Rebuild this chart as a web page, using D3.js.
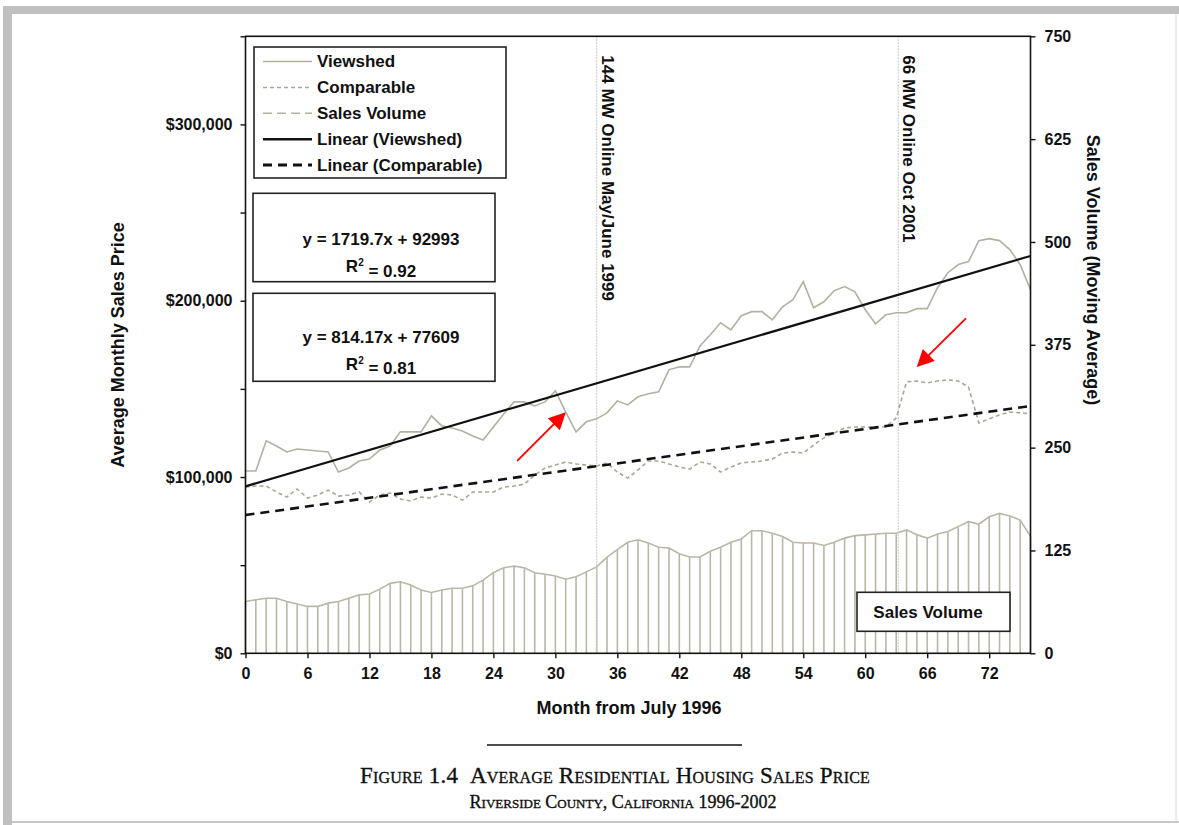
<!DOCTYPE html>
<html><head><meta charset="utf-8">
<script src="https://cdn.jsdelivr.net/npm/d3@7"></script>
<style>
body{margin:0;background:#fff;}
svg{display:block;}
text{font-family:"Liberation Sans",Arial,sans-serif;font-weight:bold;fill:#111;}
.cap{font-family:"Liberation Serif","Times New Roman",serif;font-weight:normal;font-variant:small-caps;stroke:#111;stroke-width:0.35;}
</style></head>
<body>
<svg id="c" width="1179" height="825"></svg>
<script>
// ---- Data ----
const months = d3.range(0, 77);
const viewshed = [103400,103400,120500,117600,114200,115900,115300,114800,114200,102800,
  105100,109100,110200,115300,117600,125600,125600,125600,134700,129000,
  127800,126100,123300,121000,128400,135800,142600,142600,140300,142600,
  148900,136900,125600,131300,133000,136400,143200,140900,145500,147200,
  148300,160800,162500,162500,174400,180700,187500,183500,191500,193800,
  193800,189200,196600,200600,210800,196000,199400,205700,208000,205100,
  194900,186900,192000,193200,193200,195500,195500,207400,215900,220500,
  222200,234100,235200,234100,229000,220500,206300];
const comparable = [94300,94900,94900,91500,88600,93200,88100,89800,92600,89200,
  89800,91500,85800,89800,90900,87500,86400,88600,88100,90300,
  89800,86900,91500,91500,91500,94300,94900,96000,101100,105100,
  106800,108500,107400,106800,106300,108000,102800,99400,104000,109100,
  109100,107400,105700,104500,108500,107400,102800,105700,108000,108500,
  109100,110200,113600,114200,113600,118200,122200,125000,127800,128400,
  128400,128400,128400,133500,154000,154500,153400,154500,155100,154500,
  151100,130700,133000,135200,136900,136400,135800];
const salesVolume = [63,65,67,67,63,60,57,57,61,63,
  67,71,72,78,85,87,83,77,74,77,
  79,79,82,89,98,104,106,104,98,96,
  94,90,93,99,105,117,126,135,138,134,
  129,128,121,117,117,124,129,135,139,149,
  149,146,142,135,134,134,131,135,140,143,
  144,145,146,146,150,144,140,145,148,154,
  160,157,166,170,167,162,142];
const trendViewshed = [1719.7, 92993];   // slope, intercept (x = month + 1)
const trendComparable = [814.17, 77609];
const xTicks = [0,6,12,18,24,30,36,42,48,54,60,66,72];
const yLeftTicks = [0,50000,100000,150000,200000,250000,300000,350000];
const yRightTicks = [0,125,250,375,500,625,750];
const events = [{m:34.0, label:"144 MW Online May/June 1999"},{m:63.2, label:"66 MW Online Oct 2001"}];
const arrows = [{from:[26.3,109200], to:[30.9,136100]},{from:[69.75,190000], to:[65.1,163100]}];
const legendItems = ["Viewshed","Comparable","Sales Volume","Linear (Viewshed)","Linear (Comparable)"];

// ---- Layout ----
const svg = d3.select("#c");
const L = 245.5, R = 1030.5, T = 36.3, B = 653.3;
const x = d3.scaleLinear().domain([0,76]).range([L,R]);
const yL = d3.scaleLinear().domain([0,350000]).range([B,T]);
const yR = d3.scaleLinear().domain([0,750]).range([B,T]);

const gray = "#b3b1a1";

// page frame
svg.append("rect").attr("x",3).attr("y",6).attr("width",1176).attr("height",8).attr("fill","#c0c0c0");
svg.append("rect").attr("x",3).attr("y",6).attr("width",9).attr("height",819).attr("fill","#c0c0c0");
svg.append("line").attr("x1",12).attr("x2",1179).attr("y1",822).attr("y2",822).attr("stroke","#c8c8c8").attr("stroke-width",2);
svg.append("line").attr("x1",1176).attr("x2",1176).attr("y1",14).attr("y2",822).attr("stroke","#d8d8d8").attr("stroke-width",1);

// bars (sales volume) as vertical lines + top outline
svg.append("g").selectAll("line").data(months).join("line")
  .attr("x1",d=>x(d)).attr("x2",d=>x(d))
  .attr("y1",yR(0)).attr("y2",d=>yR(salesVolume[d]))
  .attr("stroke","#b9b7a8").attr("stroke-width",1.6);
svg.append("path").datum(months)
  .attr("d", d3.line().x(d=>x(d)).y(d=>yR(salesVolume[d])))
  .attr("fill","none").attr("stroke","#b9b7a8").attr("stroke-width",1.6);

// event lines
svg.append("g").selectAll("line").data(events).join("line")
  .attr("x1",d=>x(d.m)).attr("x2",d=>x(d.m)).attr("y1",T).attr("y2",B)
  .attr("stroke","#cfcfcf").attr("stroke-width",1.2).attr("stroke-dasharray","2,1");
svg.append("g").selectAll("text").data(events).join("text")
  .attr("transform",d=>`translate(${x(d.m)+11},${T+19}) rotate(90)`)
  .attr("font-size",17).attr("dy","0.35em").text(d=>d.label);

// series
svg.append("path").datum(months)
  .attr("d", d3.line().x(d=>x(d)).y(d=>yL(viewshed[d])))
  .attr("fill","none").attr("stroke",gray).attr("stroke-width",1.6);
svg.append("path").datum(months)
  .attr("d", d3.line().x(d=>x(d)).y(d=>yL(comparable[d])))
  .attr("fill","none").attr("stroke","#a9a797").attr("stroke-width",1.6).attr("stroke-dasharray","4,3");

// trend lines
const tr = (c)=> d3.line().x(d=>x(d)).y(d=>yL(c[0]*(d+1)+c[1]))([0,76]);
svg.append("path").attr("d",tr(trendViewshed)).attr("fill","none").attr("stroke","#111").attr("stroke-width",2.2);
svg.append("path").attr("d",tr(trendComparable)).attr("fill","none").attr("stroke","#111").attr("stroke-width",2.6).attr("stroke-dasharray","9,6");

// plot border
svg.append("rect").attr("x",L).attr("y",T).attr("width",R-L).attr("height",B-T)
  .attr("fill","none").attr("stroke","#111").attr("stroke-width",1.6);

// axes
const axL = svg.append("g").attr("transform",`translate(${L},0)`)
  .call(d3.axisLeft(yL).tickValues(yLeftTicks).tickSize(5).tickPadding(8)
    .tickFormat(d=> (d%100000===0 && d<350000) ? "$"+d3.format(",")(d) : ""));
const axR = svg.append("g").attr("transform",`translate(${R},0)`)
  .call(d3.axisRight(yR).tickValues(yRightTicks).tickSize(5).tickPadding(9));
const axX = svg.append("g").attr("transform",`translate(0,${B})`)
  .call(d3.axisBottom(x).tickValues(xTicks).tickSize(5).tickPadding(9));
[axL,axR,axX].forEach(a=>{
  a.select(".domain").remove();
  a.selectAll(".tick line").attr("stroke","#111").attr("stroke-width",1.4);
  a.selectAll(".tick text").attr("font-size",16).attr("font-family",null).attr("fill","#111");
});

// axis titles
svg.append("text").attr("transform","translate(118,345) rotate(-90)").attr("text-anchor","middle")
  .attr("dy","0.35em").attr("font-size",18).text("Average Monthly Sales Price");
svg.append("text").attr("transform","translate(1093,270) rotate(90)").attr("text-anchor","middle")
  .attr("dy","0.35em").attr("font-size",18).text("Sales Volume (Moving Average)");
svg.append("text").attr("x",629).attr("y",708).attr("text-anchor","middle")
  .attr("dy","0.35em").attr("font-size",18).text("Month from July 1996");

// legend
const lg = svg.append("g");
lg.append("rect").attr("x",254).attr("y",47).attr("width",252).attr("height",131)
  .attr("fill","#fff").attr("stroke","#222").attr("stroke-width",1.6);
const lstyles = [
  {stroke:gray, w:1.5, dash:null},
  {stroke:"#a9a797", w:1.5, dash:"4,3"},
  {stroke:gray, w:1.5, dash:"9,5"},
  {stroke:"#111", w:2.6, dash:null},
  {stroke:"#111", w:3, dash:"9,6"}];
legendItems.forEach((name,i)=>{
  const yy = 61.5 + i*25.9;
  lg.append("line").attr("x1",263).attr("x2",312).attr("y1",yy).attr("y2",yy)
    .attr("stroke",lstyles[i].stroke).attr("stroke-width",lstyles[i].w).attr("stroke-dasharray",lstyles[i].dash);
  lg.append("text").attr("x",317).attr("y",yy).attr("dy","0.35em").attr("font-size",17).text(name);
});

// equation boxes
function eqBox(y0, h, eq, r2, ty){
  svg.append("rect").attr("x",253).attr("y",y0).attr("width",242).attr("height",h)
    .attr("fill","#fff").attr("stroke","#222").attr("stroke-width",1.6);
  svg.append("text").attr("x",381).attr("y",ty).attr("text-anchor","middle").attr("dy","0.35em")
    .attr("font-size",17).text(eq);
  const t = svg.append("text").attr("x",381).attr("y",ty+27).attr("text-anchor","middle").attr("dy","0.35em").attr("font-size",17);
  t.append("tspan").text("R");
  t.append("tspan").attr("font-size",10).attr("dy","-0.6em").text("2");
  t.append("tspan").attr("dy","0.6em").text(" = "+r2);
}
eqBox(193.3, 88.4, "y = 1719.7x + 92993", "0.92", 239.5);
eqBox(293.3, 88, "y = 814.17x + 77609", "0.81", 336.7);

// sales volume label box
svg.append("rect").attr("x",857).attr("y",592.3).attr("width",153).attr("height",39)
  .attr("fill","#fff").attr("stroke","#222").attr("stroke-width",1.6);
svg.append("text").attr("x",928).attr("y",612.5).attr("text-anchor","middle").attr("dy","0.35em")
  .attr("font-size",17).text("Sales Volume");

// red arrows
svg.append("defs").append("marker").attr("id","ah").attr("viewBox","0 0 10 10")
  .attr("refX",9).attr("refY",5)
  .attr("markerUnits","userSpaceOnUse").attr("orient","auto")
  .attr("markerWidth",22).attr("markerHeight",17)
  .append("path").attr("d","M0,0L10,5L0,10Z").attr("fill","#ff0000");
svg.append("g").selectAll("line").data(arrows).join("line")
  .attr("x1",d=>x(d.from[0])).attr("y1",d=>yL(d.from[1]))
  .attr("x2",d=>x(d.to[0])).attr("y2",d=>yL(d.to[1]))
  .attr("stroke","#ff0000").attr("stroke-width",1.8).attr("marker-end","url(#ah)");

// caption
svg.append("line").attr("x1",487).attr("x2",742).attr("y1",745).attr("y2",745).attr("stroke","#111").attr("stroke-width",1.5);
svg.append("text").attr("class","cap").attr("x",615).attr("y",775).attr("text-anchor","middle")
  .attr("dy","0.35em").attr("font-size",23).attr("letter-spacing",0.2)
  .text("Figure 1.4\u00a0\u00a0Average Residential Housing Sales Price");
svg.append("text").attr("class","cap").attr("x",623).attr("y",802).attr("text-anchor","middle")
  .attr("dy","0.35em").attr("font-size",18).attr("stroke-width",0.2)
  .text("Riverside County, California 1996-2002");
</script>
</body></html>
